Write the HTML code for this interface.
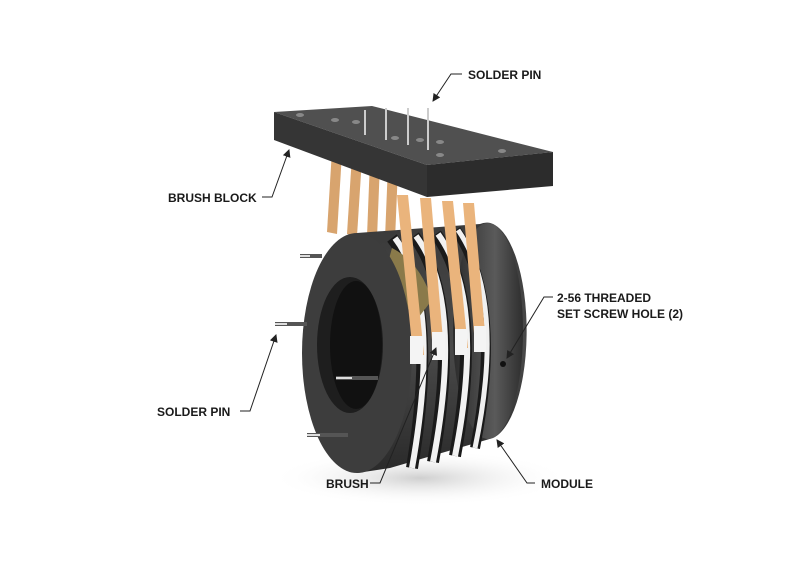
<!DOCTYPE html>
<html><head><meta charset="utf-8"><style>
html,body{margin:0;padding:0;background:#fff;}
svg{display:block}
text{font-family:"Liberation Sans",sans-serif;font-weight:bold;font-size:12px;fill:#1a1a1a}
</style></head><body>
<svg width="800" height="575" viewBox="0 0 800 575" xmlns="http://www.w3.org/2000/svg">
<defs>
<marker id="ar" markerWidth="8" markerHeight="8" refX="7" refY="4" orient="auto" markerUnits="userSpaceOnUse">
<path d="M0,0 L8,4 L0,8 z" fill="#222"/></marker>
<radialGradient id="sh" cx="0.5" cy="0.5" r="0.5"><stop offset="0" stop-color="#cfcfcf"/><stop offset="1" stop-color="#fff" stop-opacity="0"/></radialGradient>
<linearGradient id="body" x1="0" y1="0" x2="0" y2="1"><stop offset="0" stop-color="#3a3a3a"/><stop offset="0.5" stop-color="#4a4a4a"/><stop offset="1" stop-color="#2a2a2a"/></linearGradient>
<linearGradient id="right" x1="0" y1="0" x2="1" y2="0"><stop offset="0" stop-color="#2c2c2c"/><stop offset="0.6" stop-color="#5a5a5a"/><stop offset="1" stop-color="#2e2e2e"/></linearGradient>
</defs>
<ellipse cx="420" cy="478" rx="150" ry="28" fill="url(#sh)"/>
<!-- back strips -->
<g fill="#d8a46e">
<polygon points="332,150 342,153 337,234 327,232"/>
<polygon points="352,155 362,158 357,236 347,234"/>
<polygon points="370,160 380,163 377,238 367,236"/>
<polygon points="388,165 398,168 395,240 385,238"/>
</g>
<!-- ring cylinder body -->
<path d="M357,233 L480,224 A40,108 0 0 1 493,438 L390,468 L357,473 Z" fill="url(#body)"/>
<ellipse cx="488" cy="331" rx="35" ry="108" fill="url(#right)"/>
<!-- grooves -->
<g fill="none">
<path d="M392,238 Q440,300 412,468" stroke="#1a1a1a" stroke-width="12"/>
<path d="M395,238 Q442,300 412,468" stroke="#f2f2f2" stroke-width="6"/>
<path d="M414,236 Q462,300 433,462" stroke="#1a1a1a" stroke-width="12"/>
<path d="M416,236 Q464,300 433,462" stroke="#f2f2f2" stroke-width="6"/>
<path d="M436,234 Q484,300 455,456" stroke="#1a1a1a" stroke-width="12"/>
<path d="M438,234 Q486,300 455,456" stroke="#f2f2f2" stroke-width="6"/>
<path d="M456,230 Q504,300 475,448" stroke="#1a1a1a" stroke-width="10"/>
<path d="M458,230 Q506,300 475,448" stroke="#f0f0f0" stroke-width="5"/>
</g>
<path d="M392,248 Q420,262 432,300 L415,322 Q398,290 386,270Z" fill="#8a7a4a"/>
<!-- left face -->
<ellipse cx="357" cy="353" rx="55" ry="120" fill="#3d3d3d"/>
<ellipse cx="350" cy="345" rx="33" ry="68" fill="#1e1e1e"/>
<ellipse cx="356" cy="345" rx="26" ry="64" fill="#111"/>
<!-- pins -->
<g stroke="#555" stroke-width="4">
<line x1="300" y1="256" x2="322" y2="256"/>
<line x1="275" y1="324" x2="307" y2="324"/>
<line x1="336" y1="378" x2="378" y2="378"/>
<line x1="307" y1="435" x2="348" y2="435"/>
</g>
<g stroke="#ddd" stroke-width="2">
<line x1="300" y1="256" x2="310" y2="256"/>
<line x1="275" y1="324" x2="287" y2="324"/>
<line x1="336" y1="378" x2="352" y2="378"/>
<line x1="307" y1="435" x2="320" y2="435"/>
</g>
<!-- front strips -->
<g fill="#eab47c">
<polygon points="397,195 408,195 424,355 413,355"/>
<polygon points="420,198 431,198 444,352 433,352"/>
<polygon points="442,201 453,201 468,348 457,348"/>
<polygon points="463,203 474,203 486,345 475,345"/>
</g>
<g fill="#f4f4f4">
<rect x="410" y="336" width="13" height="28"/>
<rect x="432" y="332" width="13" height="28"/>
<rect x="455" y="329" width="12" height="26"/>
<rect x="474" y="326" width="12" height="26"/>
</g>
<circle cx="503" cy="364" r="3" fill="#111"/>
<!-- brush block -->
<polygon points="274,112 372,106 553,152 427,165" fill="#505050"/>
<polygon points="274,112 427,165 427,197 274,140" fill="#353535"/>
<polygon points="427,165 553,152 553,186 427,197" fill="#2c2c2c"/>
<g fill="#888">
<ellipse cx="300" cy="115" rx="4" ry="2"/><ellipse cx="335" cy="120" rx="4" ry="2"/><ellipse cx="356" cy="122" rx="4" ry="2"/>
<ellipse cx="395" cy="138" rx="4" ry="2"/><ellipse cx="420" cy="140" rx="4" ry="2"/><ellipse cx="440" cy="142" rx="4" ry="2"/>
<ellipse cx="502" cy="151" rx="4" ry="2"/><ellipse cx="440" cy="155" rx="4" ry="2"/>
</g>
<g stroke="#ccc" stroke-width="2">
<line x1="365" y1="110" x2="365" y2="135"/><line x1="386" y1="108" x2="386" y2="140"/><line x1="408" y1="108" x2="408" y2="145"/><line x1="428" y1="108" x2="428" y2="150"/>
</g>
<!-- labels -->
<g fill="none" stroke="#222" stroke-width="1">
<polyline points="462,74 451,74 433,101" marker-end="url(#ar)"/>
<polyline points="262,197 272,197 289,150" marker-end="url(#ar)"/>
<polyline points="553,297 544,297 507,358" marker-end="url(#ar)"/>
<polyline points="240,411 250,411 276,335" marker-end="url(#ar)"/>
<polyline points="370,483 380,483 436,348" marker-end="url(#ar)"/>
<polyline points="535,483 527,483 497,440" marker-end="url(#ar)"/>
</g>
<text x="468" y="79">SOLDER PIN</text>
<text x="168" y="202">BRUSH BLOCK</text>
<text x="557" y="302">2-56 THREADED</text>
<text x="557" y="318">SET SCREW HOLE (2)</text>
<text x="157" y="416">SOLDER PIN</text>
<text x="326" y="488">BRUSH</text>
<text x="541" y="488">MODULE</text>
</svg>
</body></html>
